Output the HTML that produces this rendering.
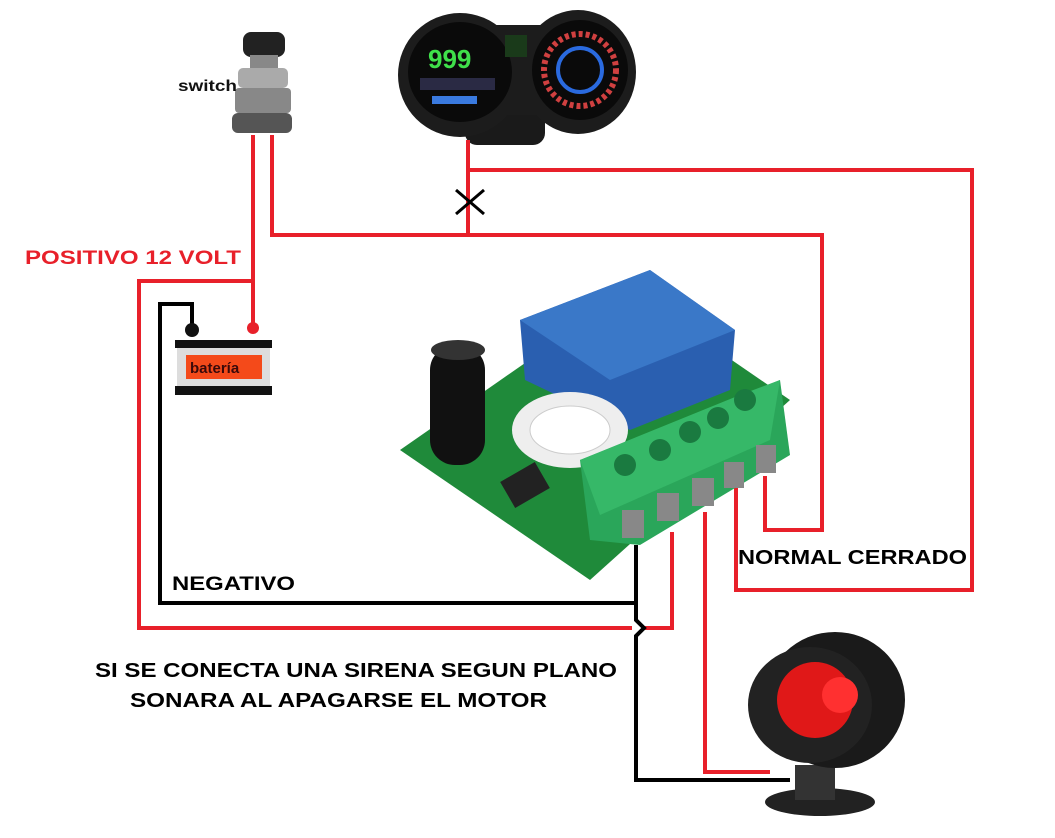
<!DOCTYPE html>
<html><head><meta charset="utf-8"><style>
html,body{margin:0;padding:0;background:#fff;}
svg{display:block}
text{font-family:"Liberation Sans",Arial,sans-serif;font-weight:bold}
</style></head><body>
<svg width="1055" height="838" viewBox="0 0 1055 838" xmlns="http://www.w3.org/2000/svg">
<rect width="1055" height="838" fill="#fff"/>
<!-- dashboard -->
<rect x="465" y="90" width="80" height="55" rx="12" fill="#1a1a1a"/>
<ellipse cx="460" cy="75" rx="62" ry="62" fill="#1c1c1c"/>
<ellipse cx="578" cy="72" rx="58" ry="62" fill="#1c1c1c"/>
<rect x="480" y="25" width="70" height="90" fill="#1c1c1c"/>
<ellipse cx="460" cy="72" rx="52" ry="50" fill="#0a0a0a"/>
<ellipse cx="580" cy="70" rx="48" ry="50" fill="#0a0a0a"/>
<text x="428" y="68" font-size="26" fill="#3fe04a">999</text>
<rect x="420" y="78" width="75" height="12" fill="#2a2a44"/>
<rect x="432" y="96" width="45" height="8" fill="#3a7adf"/>
<circle cx="580" cy="70" r="36" fill="none" stroke="#d04040" stroke-width="6" stroke-dasharray="4 3"/>
<circle cx="580" cy="70" r="22" fill="none" stroke="#2a6adf" stroke-width="4"/>
<rect x="505" y="35" width="22" height="22" fill="#1a3a1a"/>
<!-- switch -->
<rect x="243" y="32" width="42" height="25" rx="8" fill="#222"/>
<rect x="250" y="55" width="28" height="15" fill="#888"/>
<rect x="238" y="68" width="50" height="20" rx="5" fill="#aaa"/>
<rect x="235" y="88" width="56" height="25" rx="4" fill="#888"/>
<rect x="232" y="113" width="60" height="20" rx="6" fill="#555"/>
<text x="178" y="91" font-size="16" fill="#111" textLength="59" lengthAdjust="spacingAndGlyphs">switch</text>
<!-- wires red -->
<g fill="none" stroke="#e8202a" stroke-width="4">
<polyline points="253,135 253,330"/>
<polyline points="272,135 272,235 822,235 822,530 765,530 765,476"/>
<polyline points="468,140 468,170 972,170 972,590 736,590 736,488"/>
<polyline points="468,170 468,235"/>
<polyline points="253,281 139,281 139,628 632,628"/>
<polyline points="644,628 672,628 672,532"/>
<polyline points="705,512 705,772 770,772"/>
</g>
<!-- X -->
<g stroke="#000" stroke-width="3"><line x1="456" y1="190" x2="484" y2="214"/><line x1="484" y1="190" x2="456" y2="214"/></g>
<!-- black wires -->
<g fill="none" stroke="#000" stroke-width="4">
<polyline points="192,328 192,304 160,304 160,603 636,603"/>
<polyline points="636,545 636,620 644,628 636,636 636,780 790,780"/>
</g>
<!-- battery -->
<circle cx="192" cy="330" r="7" fill="#111"/>
<circle cx="253" cy="328" r="6" fill="#e8202a"/>
<rect x="175" y="340" width="97" height="8" fill="#111"/>
<rect x="177" y="348" width="93" height="40" fill="#ddd"/>
<rect x="186" y="355" width="76" height="24" fill="#f44a1a"/>
<text x="190" y="373" font-size="15" fill="#3a0a0a">batería</text>
<rect x="175" y="386" width="97" height="9" fill="#111"/>
<!-- relay board -->
<polygon points="400,450 630,290 790,400 590,580" fill="#1f8a3a"/>
<polygon points="520,320 650,270 735,330 730,390 630,430 525,380" fill="#2a5fb0"/>
<polygon points="520,320 650,270 735,330 610,380" fill="#3a78c8"/>
<rect x="430" y="345" width="55" height="120" rx="25" fill="#111"/>
<ellipse cx="458" cy="350" rx="27" ry="10" fill="#333"/>
<ellipse cx="570" cy="430" rx="58" ry="38" fill="#eee"/>
<ellipse cx="570" cy="430" rx="40" ry="24" fill="#fff" stroke="#ccc"/>
<polygon points="580,460 780,380 790,455 640,545 590,540" fill="#2aa65a"/>
<polygon points="580,460 740,395 780,380 770,440 600,515" fill="#36b868"/>
<g fill="#1a7a40"><circle cx="625" cy="465" r="11"/><circle cx="660" cy="450" r="11"/><circle cx="690" cy="432" r="11"/><circle cx="718" cy="418" r="11"/><circle cx="745" cy="400" r="11"/></g>
<g fill="#888"><rect x="622" y="510" width="22" height="28"/><rect x="657" y="493" width="22" height="28"/><rect x="692" y="478" width="22" height="28"/><rect x="724" y="462" width="20" height="26"/><rect x="756" y="445" width="20" height="28"/></g>
<rect x="505" y="470" width="40" height="30" fill="#222" transform="rotate(-30 525 485)"/>
<!-- siren -->
<ellipse cx="820" cy="802" rx="55" ry="14" fill="#222"/>
<rect x="795" y="765" width="40" height="35" fill="#333"/>
<ellipse cx="835" cy="700" rx="70" ry="68" fill="#1a1a1a"/>
<ellipse cx="810" cy="705" rx="62" ry="58" fill="#222"/>
<circle cx="815" cy="700" r="38" fill="#e01818"/>
<circle cx="840" cy="695" r="18" fill="#ff3030"/>
<!-- texts -->
<text x="25" y="264" font-size="19" fill="#e8202a" textLength="216" lengthAdjust="spacingAndGlyphs">POSITIVO 12 VOLT</text>
<text x="172" y="590" font-size="19" fill="#000" textLength="123" lengthAdjust="spacingAndGlyphs">NEGATIVO</text>
<text x="738" y="564" font-size="20" fill="#000" textLength="229" lengthAdjust="spacingAndGlyphs">NORMAL CERRADO</text>
<text x="95" y="677" font-size="20" fill="#000" textLength="522" lengthAdjust="spacingAndGlyphs">SI SE CONECTA UNA SIRENA SEGUN PLANO</text>
<text x="130" y="707" font-size="20" fill="#000" textLength="417" lengthAdjust="spacingAndGlyphs">SONARA AL APAGARSE EL MOTOR</text>
</svg>
</body></html>
